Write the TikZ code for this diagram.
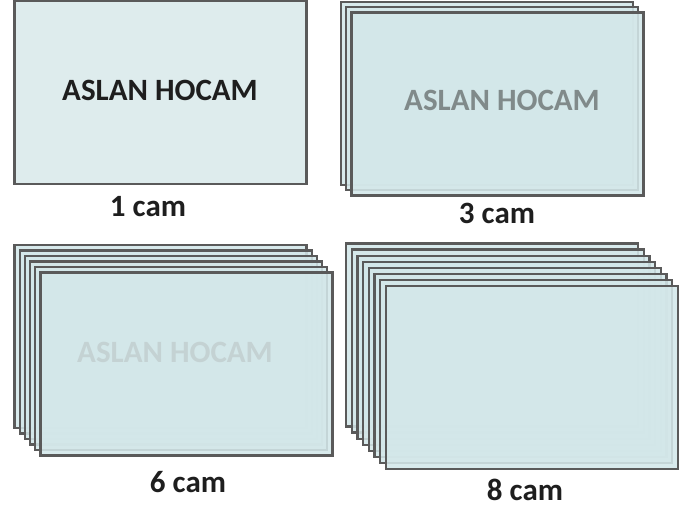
\documentclass[tikz,border=0pt]{standalone}
\usepackage{fontspec}
\setmainfont{Carlito}
\definecolor{edge}{RGB}{90,90,90}
\definecolor{glassA}{RGB}{222,236,237}
\definecolor{glassB}{RGB}{211,231,233}
\definecolor{ink}{RGB}{30,30,30}
\definecolor{inkmid}{RGB}{128,138,138}
\definecolor{inklight}{RGB}{196,210,211}
\begin{document}
\begin{tikzpicture}[x=1pt,y=-1pt,
  pane/.style={draw=edge, line width=2.2pt, anchor=north west,
    minimum width=292pt, minimum height=183pt, inner sep=0pt, outer sep=0pt},
  solidpane/.style={pane, fill=glassA},
  glasspane/.style={pane, fill=glassB, fill opacity=0.88},
  caption/.style={font=\fontsize{31}{31}\selectfont\bfseries, text=ink, inner sep=0pt},
  brand/.style={font=\fontsize{31}{31}\selectfont\bfseries, inner sep=0pt}]
\useasboundingbox (0,0) rectangle (685,508);

% 1 cam
\node[solidpane] (p1) at (14.5,0.8) {};
\node[brand, text=ink] (t1) at (160,90) {ASLAN HOCAM};
\node[caption] (c1) at (148,207) {1 cam};

% 3 cam
\foreach \i in {0,...,2}
  \node[glasspane] (p3-\i) at ({341+5.25*\i},{2+5.25*\i}) {};
\node[brand, text=inkmid] (t3) at (502,100) {ASLAN HOCAM};
\node[caption] (c3) at (497,213) {3 cam};

% 6 cam
\foreach \i in {0,...,5}
  \node[glasspane] (p6-\i) at ({14.5+5.2*\i},{245+5.5*\i}) {};
\node[brand, text=inklight] (t6) at (175,352) {ASLAN HOCAM};
\node[caption] (c6) at (188,482) {6 cam};

% 8 cam
\foreach \i in {0,...,7}
  \node[glasspane] (p8-\i) at ({346+5.71*\i},{243.5+6.07*\i}) {};
\node[caption] (c8) at (525,490) {8 cam};
\end{tikzpicture}
\end{document}
